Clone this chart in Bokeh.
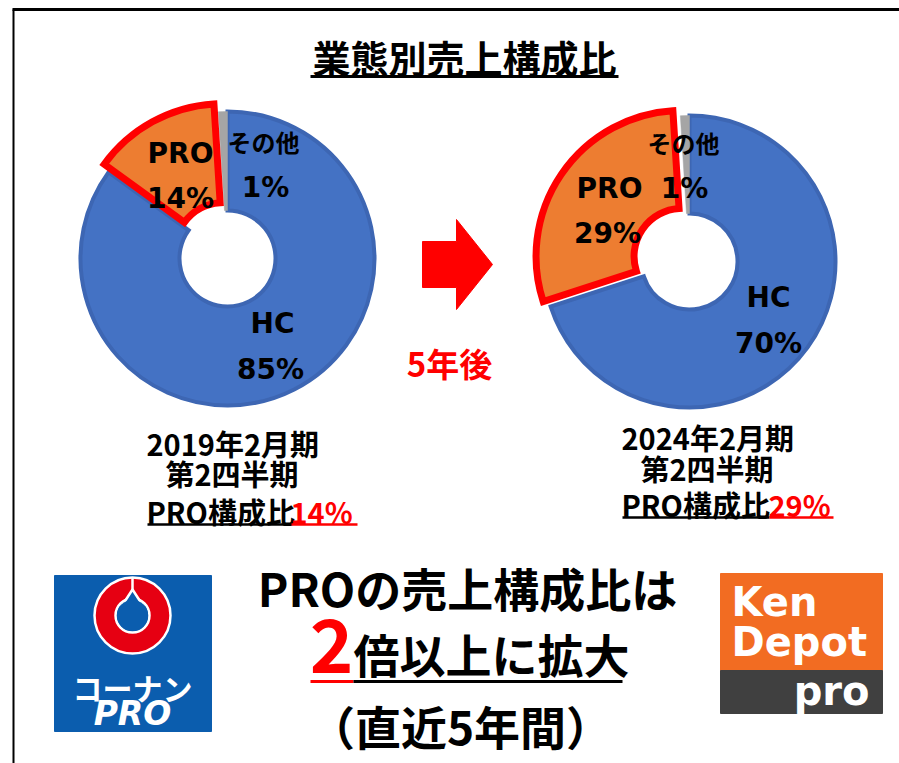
import numpy as np
from bokeh.plotting import figure
from bokeh.models import Range1d
from bokeh.core.properties import value
from bokeh.embed import file_html
from bokeh.resources import INLINE

# ---------------- data ----------------
categories = ["HC", "PRO", "その他"]
share_2019 = [85, 14, 1]
share_2024 = [70, 29, 1]
slice_colors = ["#4472C4", "#ED7D31", "#A5A5A5"]
slice_lines = ["#3D66B3", "#FF0000", "#A5A5A5"]
title_text = "業態別売上構成比"
period_2019 = ["2019年2月期", "第2四半期", "PRO構成比"]
period_2024 = ["2024年2月期", "第2四半期", "PRO構成比"]
gap_text = "5年後"
headline = ["PROの売上構成比は", "2", "倍以上に拡大", "（直近5年間）"]

JP = value("Noto Sans CJK JP")
LAT = value("DejaVu Sans")
PAGE_W, PAGE_H = 899, 763


def Y(y):
    return PAGE_H - y


p = figure(width=PAGE_W, height=PAGE_H, x_range=Range1d(0, PAGE_W), y_range=Range1d(0, PAGE_H),
           output_backend="svg", toolbar_location=None, min_border=0,
           x_axis_location=None, y_axis_location=None)
p.grid.visible = False
p.outline_line_color = None
p.background_fill_color = "white"

# frame
p.line([12, 899], [Y(9), Y(9)], line_color="black", line_width=3)
p.line([13, 13], [Y(9), Y(763)], line_color="black", line_width=2)

# title
p.text([464], [Y(56)], text=[title_text], text_font=JP, text_font_style="bold",
       text_font_size="38px", text_align="center", text_baseline="middle", text_color="black")
p.line([310, 618], [Y(76), Y(76)], line_color="black", line_width=3)


def donut(cx, cy, shares, r_in, r_out, explode):
    fr = np.array(shares, dtype=float) / sum(shares)
    ends = np.cumsum(fr)
    starts = ends - fr
    a0 = np.pi / 2 - 2 * np.pi * ends
    a1 = np.pi / 2 - 2 * np.pi * starts
    for i in [0, 2, 1]:
        mid = (a0[i] + a1[i]) / 2
        e = explode if categories[i] == "PRO" else 0
        x = cx + e * np.cos(mid)
        y = Y(cy) + e * np.sin(mid)
        lw = 7 if categories[i] == "PRO" else 4
        if categories[i] == "その他":
            lw = 0.5
        p.annular_wedge(x=[x], y=[y], inner_radius=r_in, outer_radius=r_out,
                        start_angle=a0[i], end_angle=a1[i],
                        fill_color=slice_colors[i], line_color=slice_lines[i],
                        line_width=lw, line_join="miter")


donut(227, 258, share_2019, 48, 147, 9)
donut(689, 261, share_2024, 48, 146, 9)


def label(x, y, t, size="28px", color="black", align="center", font=JP, style="bold"):
    p.text([x], [Y(y)], text=[t], text_font=font, text_font_style=style,
           text_font_size=size, text_align=align, text_baseline="middle", text_color=color)


# slice labels (2019)
label(180, 153, categories[1], font=LAT)
label(180, 198, f"{share_2019[1]}%", font=LAT)
label(263, 141, categories[2], size="24px")
label(265, 187, f"{share_2019[2]}%", font=LAT)
label(272, 323, categories[0], font=LAT)
label(270, 369, f"{share_2019[0]}%", font=LAT)
# slice labels (2024)
label(609, 188, categories[1], font=LAT)
label(607, 233, f"{share_2024[1]}%", font=LAT)
label(683, 142, categories[2], size="24px")
label(684, 188, f"{share_2024[2]}%", font=LAT)
label(768, 297, categories[0], font=LAT)
label(768, 343, f"{share_2024[0]}%", font=LAT)

# arrow
p.patch([422, 456, 456, 492, 456, 456, 422],
        [Y(241), Y(241), Y(219), Y(264), Y(309), Y(287), Y(287)],
        fill_color="#FF0000", line_color="#FF0000")
label(449, 362, gap_text, size="33px", color="#FF0000")

# period captions
label(146, 442, period_2019[0], size="29px", align="left")
label(165, 472, period_2019[1], size="29px", align="left")
label(146, 510, period_2019[2], size="29px", align="left")
label(290, 510, f"{share_2019[1]}%", size="29px", align="left", color="#FF0000")
p.line([147, 291], [Y(524), Y(524)], line_color="black", line_width=2.5)
p.line([291, 357], [Y(524), Y(524)], line_color="#FF0000", line_width=2.5)

label(621, 436, period_2024[0], size="29px", align="left")
label(640, 467, period_2024[1], size="29px", align="left")
label(621, 503, period_2024[2], size="29px", align="left")
label(768, 503, f"{share_2024[1]}%", size="29px", align="left", color="#FF0000")
p.line([622, 769], [Y(517), Y(517)], line_color="black", line_width=2.5)
p.line([769, 833], [Y(517), Y(517)], line_color="#FF0000", line_width=2.5)

# headline
label(467, 586, headline[0], size="46px")
label(353, 645, headline[1], size="74px", align="right", color="#FF0000")
label(353, 652, headline[2], size="46px", align="left")
p.line([310, 353], [Y(681), Y(681)], line_color="#FF0000", line_width=3)
p.line([353, 622], [Y(681), Y(681)], line_color="black", line_width=3)
label(460, 724, headline[3], size="46px")

# Konan PRO logo
p.quad(left=[54], right=[211], top=[Y(575)], bottom=[Y(731)], fill_color="#0B5DAE", line_color="#0B5DAE")
p.annulus(x=[132], y=[Y(615)], inner_radius=17, outer_radius=38, fill_color="#E60012",
          line_color="white", line_width=2.5)
p.patch([121, 143, 132], [Y(606), Y(606), Y(589)], fill_color="#0B5DAE", line_color="white", line_width=2.5)
p.circle(x=[132], y=[Y(615)], radius=15.5, fill_color="#0B5DAE", line_color=None)
p.line([132, 132], [Y(577), Y(590)], line_color="white", line_width=2.5)
label(132, 686, "コーナン", size="30px", color="white")
label(132, 713, "PRO", size="33px", color="white", font=LAT, style="bold italic")

# Ken Depot logo
p.quad(left=[720], right=[882], top=[Y(573)], bottom=[Y(670)], fill_color="#F26C22", line_color="#F26C22")
p.quad(left=[720], right=[882], top=[Y(670)], bottom=[Y(713)], fill_color="#404040", line_color="#404040")
label(731, 601, "Ken", size="40px", color="white", align="left", font=LAT)
label(731, 641, "Depot", size="40px", color="white", align="left", font=LAT)
label(869, 690, "pro", size="40px", color="white", align="right", font=LAT)

open("out.html", "w").write(file_html(p, INLINE))
